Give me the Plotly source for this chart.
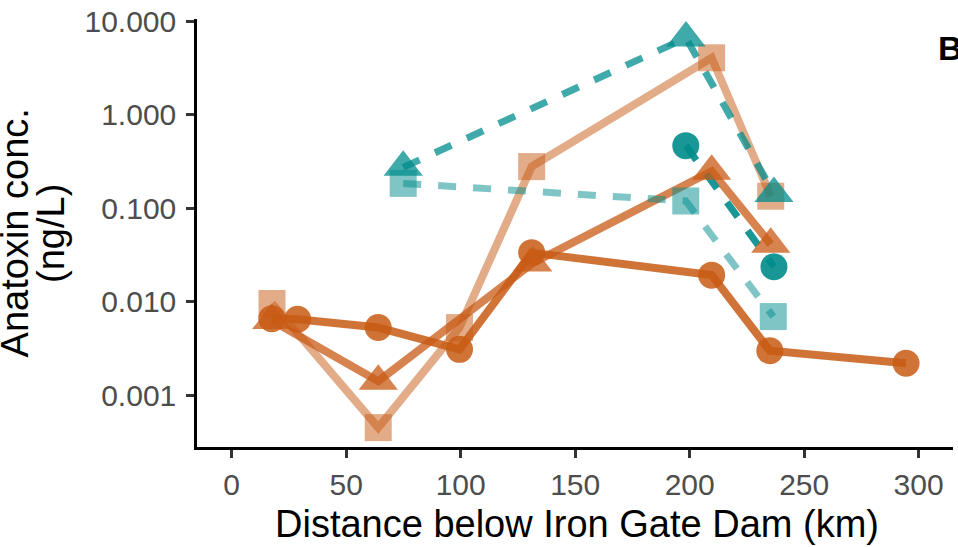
import plotly.graph_objects as go

# ---- data (distance below Iron Gate Dam, km ; anatoxin concentration, ng/L) ----
or_circ_x = [17.5, 28.8, 64, 99.5, 131, 209.6, 235, 294.5]
or_circ_y = [0.0066, 0.0065, 0.0053, 0.0031, 0.0336, 0.0193, 0.0030, 0.0022]

or_tri_x = [17.5, 64, 131.5, 209.6, 235.4]
or_tri_y = [0.0063, 0.00141, 0.026, 0.25, 0.0414]

or_sq_x = [17.6, 64, 99.5, 131, 209.6, 235.4]
or_sq_y = [0.0096, 0.00045, 0.0053, 0.28, 4.09, 0.135]

tl_tri_x = [74.9, 198.4, 236.8]
tl_tri_y = [0.275, 6.67, 0.144]

tl_sq_x = [74.9, 198.3, 236.5]
tl_sq_y = [0.185, 0.12, 0.00695]

tl_circ_x = [198.3, 236.8]
tl_circ_y = [0.469, 0.0237]

y_tickvals = [10, 1, 0.1, 0.01, 0.001]
y_ticktext = ["10.000", "1.000", "0.100", "0.010", "0.001"]
x_tickvals = [0, 50, 100, 150, 200, 250, 300]

ORANGE = "200,90,20"
TEAL = "0,140,140"

series = [
    # x, y, base colour, alpha, symbol, marker size, dash, line width
    (or_sq_x, or_sq_y, ORANGE, 0.5, "square", 27, "solid", 8),
    (or_tri_x, or_tri_y, ORANGE, 0.75, "triangle-up", 34, "solid", 8),
    (or_circ_x, or_circ_y, ORANGE, 0.85, "circle", 27, "solid", 8),
    (tl_sq_x, tl_sq_y, TEAL, 0.5, "square", 27, "18px,17px", 7),
    (tl_tri_x, tl_tri_y, TEAL, 0.75, "triangle-up", 34, "18px,17px", 7),
    (tl_circ_x, tl_circ_y, TEAL, 0.9, "circle", 27, "18px,17px", 7),
]

fig = go.Figure()
# lines first (as geom_line), then points (as geom_point)
for x, y, c, a, sym, sz, dash, lw in series:
    fig.add_trace(go.Scatter(x=x, y=y, mode="lines",
                             line=dict(color=f"rgba({c},{a})", width=lw, dash=dash),
                             showlegend=False, hoverinfo="skip"))
for x, y, c, a, sym, sz, dash, lw in series:
    fig.add_trace(go.Scatter(x=x, y=y, mode="markers",
                             marker=dict(symbol=sym, size=sz, color=f"rgba({c},{a})",
                                         line=dict(width=0)),
                             showlegend=False))

axis_common = dict(
    showline=True, linecolor="black", linewidth=2.5,
    ticks="outside", ticklen=8, tickwidth=2.5, tickcolor="#333333",
    showgrid=False, zeroline=False,
    tickfont=dict(size=30, color="#4D4D4D", family="Liberation Sans, Arial, sans-serif"),
)

fig.update_xaxes(range=[-15.15, 315], tickvals=x_tickvals, ticklabelstandoff=1, **axis_common)
fig.update_yaxes(type="log", range=[-3.554, 1.027], tickvals=y_tickvals,
                 ticktext=y_ticktext, ticklabelstandoff=4, **axis_common)

title_font = dict(size=38, color="black", family="Liberation Sans, Arial, sans-serif")
ymid = (447 - 232) / 430
fig.update_layout(
    width=958, height=547,
    margin=dict(l=197, r=5, t=17, b=100),
    paper_bgcolor="white", plot_bgcolor="white",
    font=dict(family="Liberation Sans, Arial, sans-serif"),
    annotations=[
        dict(text="Distance below Iron Gate Dam (km)", xref="paper", yref="paper",
             x=(577 - 197) / 755.7, y=(447 - 524.8) / 430, xanchor="center", yanchor="middle",
             showarrow=False, font=title_font),
        dict(text="Anatoxin conc.", xref="paper", yref="paper",
             x=(15.5 - 197) / 755.7, y=ymid, xanchor="center", yanchor="middle",
             textangle=-90, showarrow=False, font=title_font),
        dict(text="(ng/L)", xref="paper", yref="paper",
             x=(51 - 197) / 755.7, y=ymid, xanchor="center", yanchor="middle",
             textangle=-90, showarrow=False, font=title_font),
        dict(text="<b>B</b>", xref="paper", yref="paper",
             x=0.978, y=0.9326, xanchor="left", yanchor="middle",
             showarrow=False, font=dict(size=34, color="black",
                                        family="Liberation Sans, Arial, sans-serif")),
    ],
)

fig.write_html("out.html", config={"displayModeBar": False},
               post_script="document.body.style.margin='0';")
